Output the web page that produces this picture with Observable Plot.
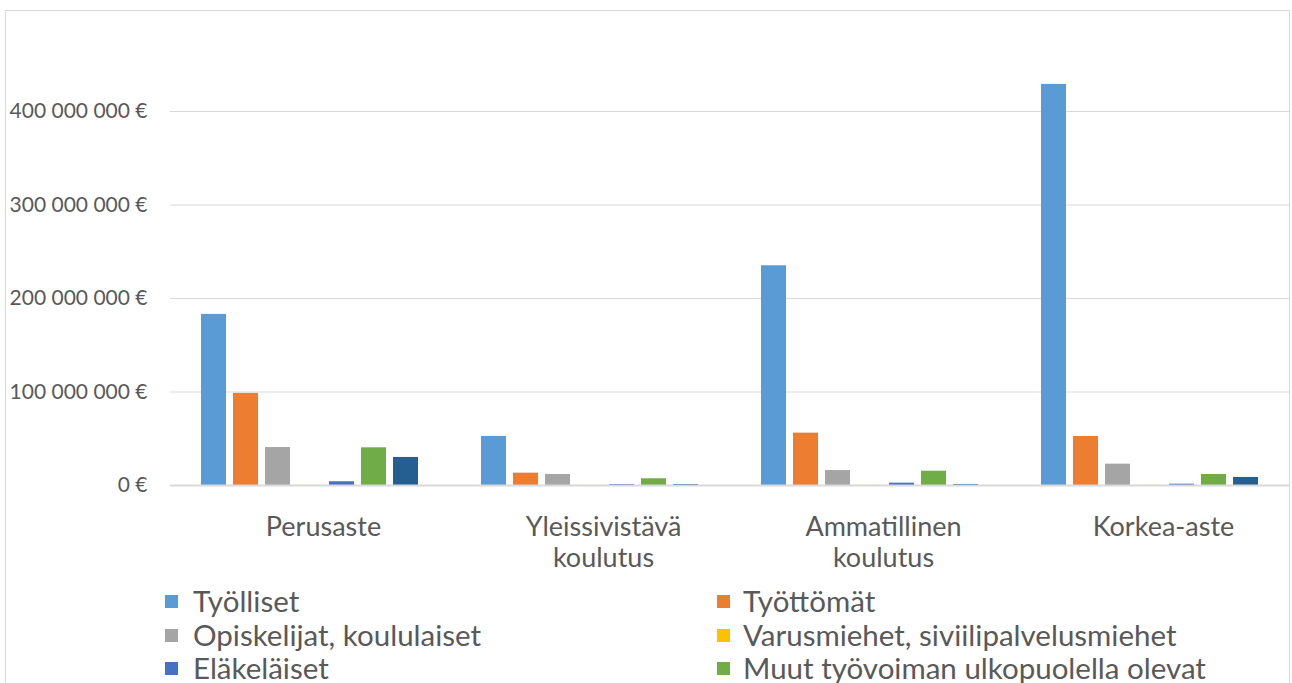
<!DOCTYPE html>
<html>
<head>
<meta charset="utf-8">
<script src="https://cdn.jsdelivr.net/npm/d3@7"></script>
<script src="https://cdn.jsdelivr.net/npm/@observablehq/plot@0.6"></script>
<style>
  html, body { margin: 0; padding: 0; background: #fff; overflow: hidden; width: 1292px; height: 683px; }
  #frame { position: absolute; left: 5px; top: 10px; width: 1285px; height: 720px; border: 1px solid #d9d9d9; box-sizing: border-box; }
  #chart { position: absolute; left: 0; top: 0; }
  .leg { position: absolute; font-family: Lato, "Open Sans", sans-serif; font-size: 29.5px; color: #595959; line-height: 30px; white-space: nowrap; }
  .sw { position: absolute; width: 13px; height: 13px; }
</style>
</head>
<body>
<div id="frame"></div>
<div id="chart"></div>
<div id="legend"></div>
<script>
const categories = ["Perusaste", "Yleissivistävä koulutus", "Ammatillinen koulutus", "Korkea-aste"];
const categoryLabels = ["Perusaste", "Yleissivistävä\nkoulutus", "Ammatillinen\nkoulutus", "Korkea-aste"];
const series = ["Työlliset", "Työttömät", "Opiskelijat, koululaiset", "Varusmiehet, siviilipalvelusmiehet", "Eläkeläiset", "Muut työvoiman ulkopuolella olevat", "Sarja7"];
const colors = ["#5B9BD5", "#ED7D31", "#A5A5A5", "#FFC000", "#4472C4", "#70AD47", "#255E91"];
// values in euros, per category (Perusaste, Yleissivistävä, Ammatillinen, Korkea-aste)
const tyolliset   = [183e6, 52.5e6, 235e6, 429e6];
const tyottomat   = [98.5e6, 13.2e6, 56e6, 52.4e6];
const opiskelijat = [40.6e6, 11.8e6, 16e6, 22.8e6];
const varusmiehet = [0.2e6, 0.1e6, 0.2e6, 0.2e6];
const elakelaiset = [4e6, 1e6, 2.5e6, 1.4e6];
const muut        = [40.3e6, 7.2e6, 15.3e6, 11.8e6];
const sarja7      = [30e6, 1e6, 1e6, 8.6e6];
const yTicks = [0, 100e6, 200e6, 300e6, 400e6];
const legendSeries = series.slice(0, 6);

const valueLists = [tyolliset, tyottomat, opiskelijat, varusmiehet, elakelaiset, muut, sarja7];
const data = [];
categories.forEach((c, ci) => {
  series.forEach((s, si) => data.push({cat: c, series: s, value: valueLists[si][ci]}));
});

const fmt = v => v === 0 ? "0 €" : d3.format(",")(v).replace(/,/g, " ") + " €";

const chart = Plot.plot({
  width: 1292,
  height: 600,
  marginLeft: 170,
  marginRight: 2,
  marginTop: 17.5,
  marginBottom: 115,
  style: {fontFamily: "Lato, 'Open Sans', sans-serif", color: "#595959", background: "transparent"},
  fx: {domain: categories, padding: 0, axis: null},
  x: {domain: series, paddingInner: 0.21, paddingOuter: 0.85, axis: null},
  y: {domain: [0, 500e6], axis: null},
  color: {domain: series, range: colors},
  marks: [
    Plot.gridY(yTicks, {stroke: "#d9d9d9", strokeOpacity: 1, strokeWidth: 1}),
    Plot.barY(data, {fx: "cat", x: "series", y: "value", fill: "series"}),
    Plot.ruleY([0], {stroke: "#d9d9d9", strokeWidth: 2}),
    Plot.axisY(yTicks, {tickFormat: fmt, tickSize: 0, tickPadding: 23, fontSize: 21, label: null}),
    Plot.text(categories, {fx: d => d, text: (d, i) => categoryLabels[i], frameAnchor: "bottom", lineAnchor: "top", dy: 29, dx: 13, fontSize: 27, lineHeight: 1.13, fill: "#595959"})
  ]
});
document.getElementById("chart").appendChild(chart);

const legend = document.getElementById("legend");
const rowY = [601, 635, 668];
legendSeries.forEach((s, i) => {
  const col = i % 2, row = Math.floor(i / 2);
  const sw = document.createElement("div");
  sw.className = "sw";
  sw.style.left = (col === 0 ? 165 : 717) + "px";
  sw.style.top = (rowY[row] - 6) + "px";
  sw.style.background = colors[series.indexOf(s)];
  legend.appendChild(sw);
  const t = document.createElement("div");
  t.className = "leg";
  t.style.left = (col === 0 ? 193 : 743) + "px";
  t.style.top = (rowY[row] - 15) + "px";
  t.textContent = s;
  legend.appendChild(t);
});
</script>
</body>
</html>
